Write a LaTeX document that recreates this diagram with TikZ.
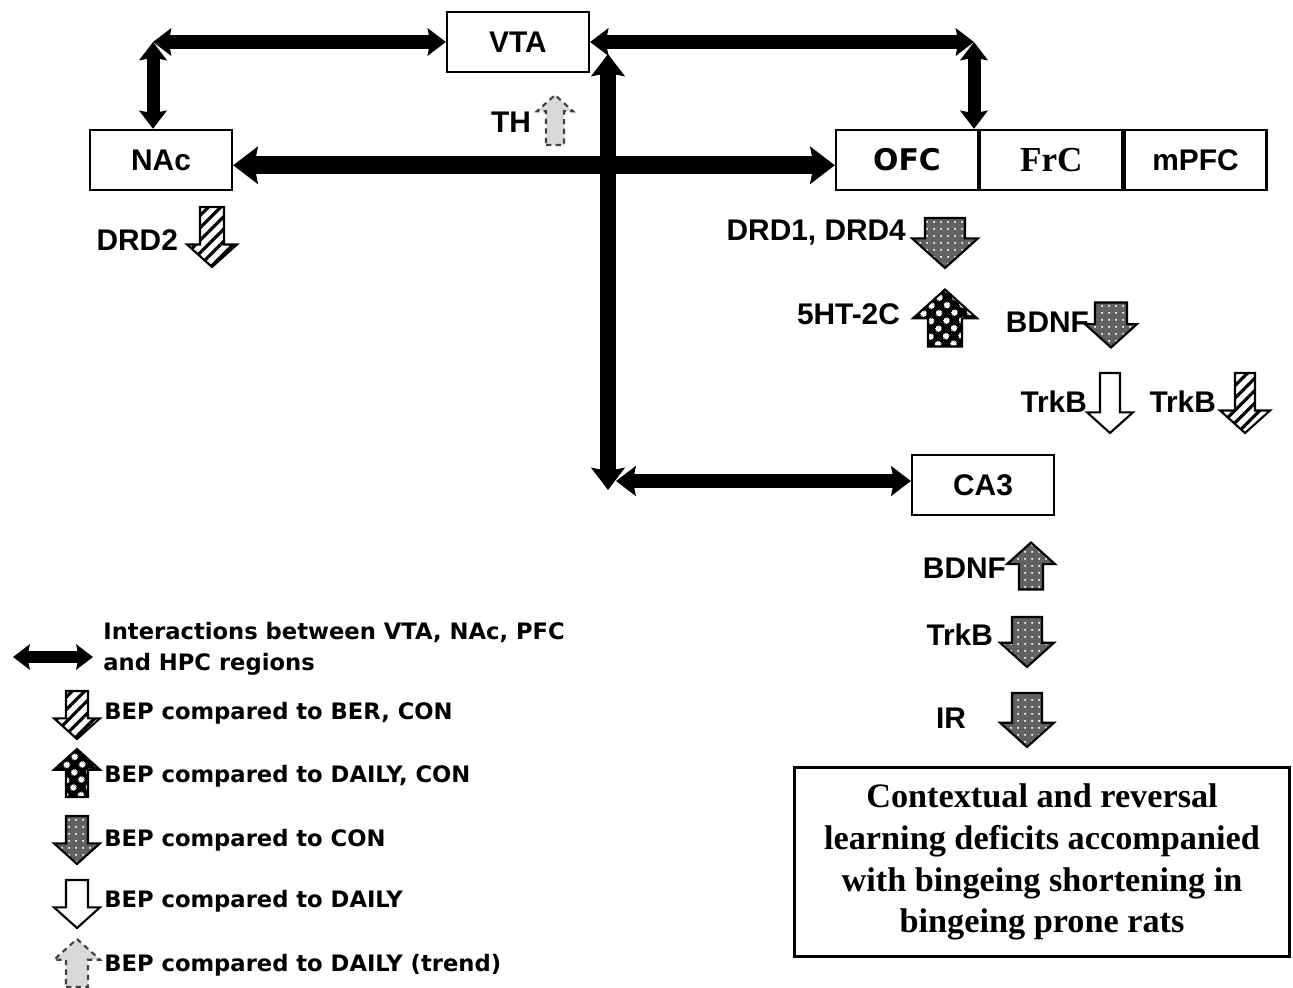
\documentclass[tikz,border=0pt]{standalone}
\usepackage{fontspec}
\setmainfont{Liberation Serif}
\setsansfont{Liberation Sans}
\newfontfamily\legfont{DejaVu Sans}
\usetikzlibrary{arrows.meta,positioning,patterns.meta}
\tikzset{
  region/.style={draw,fill=white,line width=1.3pt,minimum width=2.84cm,minimum height=1.2cm,inner sep=0pt,
                 font=\sffamily\bfseries\fontsize{17}{20}\selectfont},
  lbl/.style={font=\sffamily\bfseries\fontsize{17}{20}\selectfont,inner sep=1pt},
  leg/.style={font=\legfont\bfseries\fontsize{12.9}{18}\selectfont,align=left,inner sep=0pt,anchor=west},
  link/.style={line width=#1,{Stealth[length=0pt 1.4,width=0pt 2.1,inset=0pt 0.2]}-{Stealth[length=0pt 1.4,width=0pt 2.1,inset=0pt 0.2]}},
  link/.default=7.4pt,
  blkfill/.store in=\blkfillcol, blkfill=white,
  hatchf/.style={draw,line width=1.2pt,blkfill=white,pattern={Lines[angle=45,distance=5pt,line width=1.8pt]}},
  dotf/.style={draw,line width=1.2pt,blkfill=black!62,pattern={Dots[distance=4pt,radius=0.7pt]},pattern color=white},
  bubf/.style={draw,line width=1.2pt,blkfill=black,pattern={Dots[distance=6.5pt,radius=2pt,angle=45]},pattern color=white},
  openf/.style={draw,line width=1.2pt,blkfill=white},
  trendf/.style={draw=black!75,line width=1.2pt,dash pattern=on 3pt off 2.5pt,blkfill=black!15},
  pics/blk/.style n args={4}{code={
    \fill[\blkfillcol] ({-(#2)},{-(#4)*(#3)/2}) -- ({#2},{-(#4)*(#3)/2}) -- ({#2},{(#4)*((#3)/2-0.9*(#1))})
      -- ({#1},{(#4)*((#3)/2-0.9*(#1))}) -- (0,{(#4)*(#3)/2}) -- ({-(#1)},{(#4)*((#3)/2-0.9*(#1))})
      -- ({-(#2)},{(#4)*((#3)/2-0.9*(#1))}) -- cycle;
    \path[pic actions] ({-(#2)},{-(#4)*(#3)/2}) -- ({#2},{-(#4)*(#3)/2}) -- ({#2},{(#4)*((#3)/2-0.9*(#1))})
      -- ({#1},{(#4)*((#3)/2-0.9*(#1))}) -- (0,{(#4)*(#3)/2}) -- ({-(#1)},{(#4)*((#3)/2-0.9*(#1))})
      -- ({-(#2)},{(#4)*((#3)/2-0.9*(#1))}) -- cycle;
  }},
}
\begin{document}
\begin{tikzpicture}[x=0.02cm,y=-0.02cm]
  \useasboundingbox (0,0) rectangle (1293,987);
  \node[region] (vta) at (518,42) {VTA};
  \node[region] (nac) at (161,160) {NAc};
  \node[region,font=\legfont\bfseries\fontsize{17}{20}\selectfont] (ofc) at (907,160) {OFC};
  \node[region,right=0pt of ofc,font=\rmfamily\bfseries\fontsize{20}{24}\selectfont] (frc) {FrC};
  \node[region,right=0pt of frc] (mpfc) {mPFC};
  \node[region] (ca3) at (983,485) {CA3};
  \node[draw,line width=2pt,minimum width=9.9cm,minimum height=3.78cm,align=center,
        font=\rmfamily\bfseries\fontsize{19.5}{23.8}\selectfont] (outc) at (1042,862)
        {Contextual and reversal\\learning deficits accompanied\\with bingeing shortening in\\bingeing prone rats};
  \coordinate (nvc) at (153,42);
  \coordinate (voc) at (974,42);
  \draw[link] (nvc) -- (vta.west);
  \draw[link] (nvc) -- (nvc |- nac.north);
  \draw[link] (vta.east) -- (voc);
  \draw[link] (voc) -- (voc |- ofc.north);
  \draw[link=10pt] ([yshift=-3pt]nac.east) -- ([yshift=-3pt]ofc.west);
  \coordinate (vtop) at (608,54);
  \coordinate (vbot) at (608,490);
  \draw[link=9pt] (vtop) -- (vbot);
  \coordinate (hcl) at (616,481);
  \draw[link=8pt] (hcl) -- (hcl -| ca3.west);
  \pic[trendf] (tharr) at (555,120) {blk={18}{9}{50}{-1}};
  \node[lbl,anchor=east] (th) at (533,122) {TH};
  \pic[hatchf] (drd2arr) at (212,237) {blk={25}{12}{60}{1}};
  \node[lbl,anchor=east] (drd2) at (180,240) {DRD2};
  \pic[dotf] (drd1arr) at (945,243) {blk={33}{20}{50}{1}};
  \node[lbl,anchor=east] (drd1) at (908,233) {DRD1, DRD4};
  \pic[bubf] (htarr) at (945,318) {blk={32}{17}{57}{-1}};
  \node[lbl,anchor=east] (ht2c) at (902,314) {5HT-2C};
  \pic[dotf] (bdnfarr) at (1111,325) {blk={26}{16}{45}{1}};
  \node[lbl,anchor=east] (bdnf) at (1091,322) {BDNF};
  \pic[openf] (trkbarr) at (1110,403) {blk={23}{10}{60}{1}};
  \node[lbl,anchor=east] (trkb) at (1089,402) {TrkB};
  \pic[hatchf] (trkbbarr) at (1245,403) {blk={25}{10}{60}{1}};
  \node[lbl,anchor=east] (trkbb) at (1218,402) {TrkB};
  \pic[dotf] (cbdnfarr) at (1031,566) {blk={24}{12}{47}{-1}};
  \node[lbl,anchor=east] (cbdnf) at (1008,568) {BDNF};
  \pic[dotf] (ctrkbarr) at (1027,642) {blk={27}{15}{50}{1}};
  \node[lbl,anchor=east] (ctrkb) at (995,635) {TrkB};
  \pic[dotf] (irarr) at (1027,720) {blk={27}{15}{54}{1}};
  \node[lbl,anchor=east] (ir) at (968,718) {IR};
  \coordinate (lgl) at (13,657);
  \coordinate (lgr) at (93,657);
  \draw[link=6.8pt] (lgl) -- (lgr);
  \node[leg] (leg0) at (103,649) {Interactions between VTA, NAc, PFC\\and HPC regions};
  \foreach \st/\dir/\ya/\yt/\tx [count=\i] in {hatchf/1/715/713/{BEP compared to BER, CON},
      bubf/-1/773/776/{BEP compared to DAILY, CON}, dotf/1/840/840/{BEP compared to CON},
      openf/1/904/901/{BEP compared to DAILY}, trendf/-1/963/965/{BEP compared to DAILY (trend)}}{
    \pic[\st] (legarr\i) at (77,\ya) {blk={23}{11}{48}{\dir}};
    \node[leg] (leg\i) at (104,\yt) {\tx};
  }
\end{tikzpicture}
\end{document}
